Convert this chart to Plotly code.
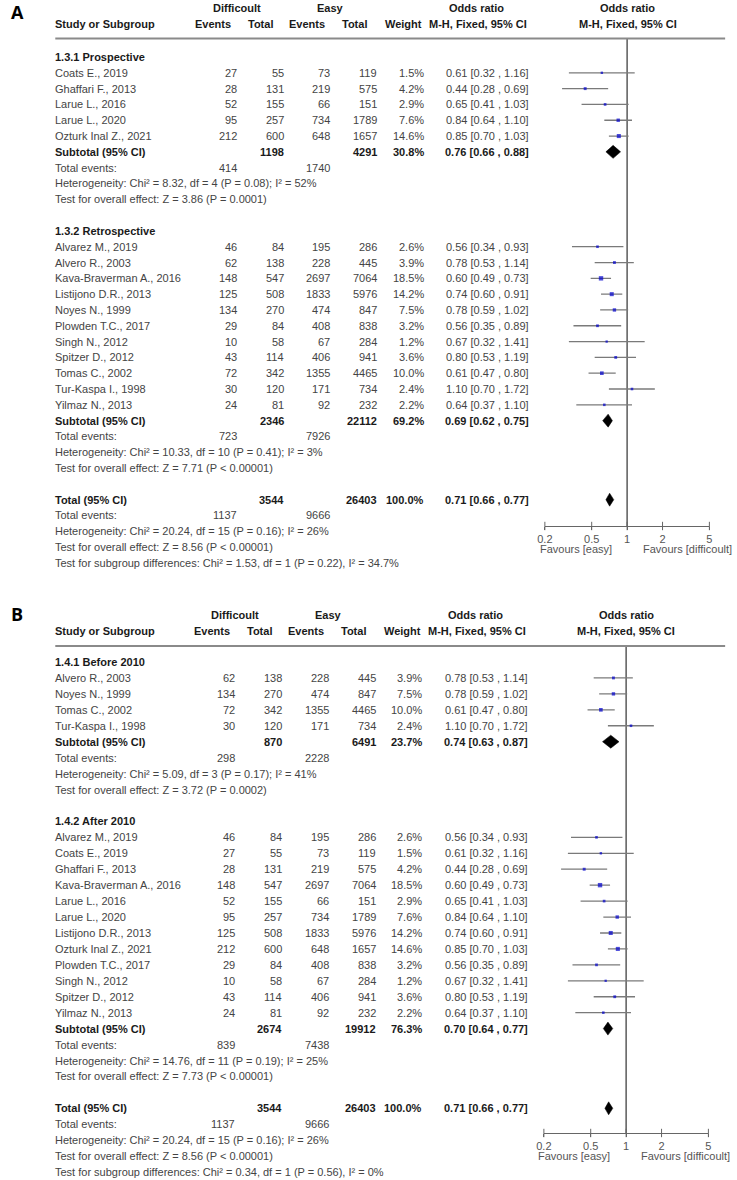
import math
import plotly.graph_objects as go

W, H = 737, 1180
FONT = "Liberation Sans, Arial, sans-serif"
TXT = "#444444"
BOLD = "#1a1a1a"

# ---------------- study-level data ----------------
study_names = ["Alvarez M., 2019", "Alvero R., 2003", "Coats E., 2019", "Ghaffari F., 2013",
               "Kava-Braverman A., 2016", "Larue L., 2016", "Larue L., 2020", "Listijono D.R., 2013",
               "Noyes N., 1999", "Ozturk Inal Z., 2021", "Plowden T.C., 2017", "Singh N., 2012",
               "Spitzer D., 2012", "Tomas C., 2002", "Tur-Kaspa I., 1998", "Yilmaz N., 2013"]
diff_events = [46, 62, 27, 28, 148, 52, 95, 125, 134, 212, 29, 10, 43, 72, 30, 24]
diff_total = [84, 138, 55, 131, 547, 155, 257, 508, 270, 600, 84, 58, 114, 342, 120, 81]
easy_events = [195, 228, 73, 219, 2697, 66, 734, 1833, 474, 648, 408, 67, 406, 1355, 171, 92]
easy_total = [286, 445, 119, 575, 7064, 151, 1789, 5976, 847, 1657, 838, 284, 941, 4465, 734, 232]
weight = [2.6, 3.9, 1.5, 4.2, 18.5, 2.9, 7.6, 14.2, 7.5, 14.6, 3.2, 1.2, 3.6, 10.0, 2.4, 2.2]
or_est = [0.56, 0.78, 0.61, 0.44, 0.60, 0.65, 0.84, 0.74, 0.78, 0.85, 0.56, 0.67, 0.80, 0.61, 1.10, 0.64]
or_lo = [0.34, 0.53, 0.32, 0.28, 0.49, 0.41, 0.64, 0.60, 0.59, 0.70, 0.35, 0.32, 0.53, 0.47, 0.70, 0.37]
or_hi = [0.93, 1.14, 1.16, 0.69, 0.73, 1.03, 1.10, 0.91, 1.02, 1.03, 0.89, 1.41, 1.19, 0.80, 1.72, 1.10]

# ---------------- panel A subgroups ----------------
A_sub_titles = ["1.3.1 Prospective", "1.3.2 Retrospective"]
A_sub_members = [["Coats E., 2019", "Ghaffari F., 2013", "Larue L., 2016", "Larue L., 2020", "Ozturk Inal Z., 2021"],
                 ["Alvarez M., 2019", "Alvero R., 2003", "Kava-Braverman A., 2016", "Listijono D.R., 2013",
                  "Noyes N., 1999", "Plowden T.C., 2017", "Singh N., 2012", "Spitzer D., 2012",
                  "Tomas C., 2002", "Tur-Kaspa I., 1998", "Yilmaz N., 2013"]]
A_sub_diff_total = [1198, 2346]
A_sub_easy_total = [4291, 22112]
A_sub_weight = [30.8, 69.2]
A_sub_or = [0.76, 0.69]
A_sub_lo = [0.66, 0.62]
A_sub_hi = [0.88, 0.75]
A_sub_diff_events = [414, 723]
A_sub_easy_events = [1740, 7926]
A_sub_het = ["Heterogeneity: Chi² = 8.32, df = 4 (P = 0.08); I² = 52%",
             "Heterogeneity: Chi² = 10.33, df = 10 (P = 0.41); I² = 3%"]
A_sub_test = ["Test for overall effect: Z = 3.86 (P = 0.0001)",
              "Test for overall effect: Z = 7.71 (P < 0.00001)"]
A_subgroup_diff = "Test for subgroup differences: Chi² = 1.53, df = 1 (P = 0.22), I² = 34.7%"

# ---------------- panel B subgroups ----------------
B_sub_titles = ["1.4.1 Before 2010", "1.4.2 After 2010"]
B_sub_members = [["Alvero R., 2003", "Noyes N., 1999", "Tomas C., 2002", "Tur-Kaspa I., 1998"],
                 ["Alvarez M., 2019", "Coats E., 2019", "Ghaffari F., 2013", "Kava-Braverman A., 2016",
                  "Larue L., 2016", "Larue L., 2020", "Listijono D.R., 2013", "Ozturk Inal Z., 2021",
                  "Plowden T.C., 2017", "Singh N., 2012", "Spitzer D., 2012", "Yilmaz N., 2013"]]
B_sub_diff_total = [870, 2674]
B_sub_easy_total = [6491, 19912]
B_sub_weight = [23.7, 76.3]
B_sub_or = [0.74, 0.70]
B_sub_lo = [0.63, 0.64]
B_sub_hi = [0.87, 0.77]
B_sub_diff_events = [298, 839]
B_sub_easy_events = [2228, 7438]
B_sub_het = ["Heterogeneity: Chi² = 5.09, df = 3 (P = 0.17); I² = 41%",
             "Heterogeneity: Chi² = 14.76, df = 11 (P = 0.19); I² = 25%"]
B_sub_test = ["Test for overall effect: Z = 3.72 (P = 0.0002)",
              "Test for overall effect: Z = 7.73 (P < 0.00001)"]
B_subgroup_diff = "Test for subgroup differences: Chi² = 0.34, df = 1 (P = 0.56), I² = 0%"

# ---------------- overall ----------------
total_diff_total = 3544
total_easy_total = 26403
total_weight = 100.0
total_or, total_lo, total_hi = 0.71, 0.66, 0.77
total_diff_events = 1137
total_easy_events = 9666
total_het = "Heterogeneity: Chi² = 20.24, df = 15 (P = 0.16); I² = 26%"
total_test = "Test for overall effect: Z = 8.56 (P < 0.00001)"

axis_ticks = [0.2, 0.5, 1, 2, 5]
axis_ticktext = ["0.2", "0.5", "1", "2", "5"]

panels = [
    dict(letter="A", letter_top=0, h1=8, h2=24, line_y=38.5, row0=57, pitch=15.81, axis_y=526,
         fav_y=548, dx=0, fx0=545, fx1=712, xa="x", ya="y", xn="xaxis", yn="yaxis",
         titles=A_sub_titles, members=A_sub_members, sdt=A_sub_diff_total, set_=A_sub_easy_total,
         sw=A_sub_weight, sor=A_sub_or, slo=A_sub_lo, shi=A_sub_hi, sde=A_sub_diff_events,
         see=A_sub_easy_events, shet=A_sub_het, stest=A_sub_test, sgd=A_subgroup_diff),
    dict(letter="B", letter_top=602, h1=615, h2=631, line_y=646, row0=662, pitch=15.94, axis_y=1133,
         fav_y=1155, dx=-1.5, fx0=544, fx1=711, xa="x2", ya="y2", xn="xaxis2", yn="yaxis2",
         titles=B_sub_titles, members=B_sub_members, sdt=B_sub_diff_total, set_=B_sub_easy_total,
         sw=B_sub_weight, sor=B_sub_or, slo=B_sub_lo, shi=B_sub_hi, sde=B_sub_diff_events,
         see=B_sub_easy_events, shet=B_sub_het, stest=B_sub_test, sgd=B_subgroup_diff),
]

annotations = []
shapes = []
fig = go.Figure()


def ann(px, py, text, anchor="left", color=TXT, size=11):
    annotations.append(dict(x=px / W, y=1 - py / H, xref="paper", yref="paper", text=text,
                            showarrow=False, xanchor=anchor, yanchor="middle", borderpad=0,
                            borderwidth=0, font=dict(size=size, color=color, family=FONT)))


def ci_text(o, l, h):
    return f"{o:.2f} [{l:.2f} , {h:.2f}]"


for P in panels:
    dx = P["dx"]
    NAME_X = 48
    C_ED, C_TD, C_EE, C_TE, C_W, C_CI = 232 + dx, 280 + dx, 327 + dx, 375 + dx, 422 + dx, 529 + dx

    # panel letter
    annotations.append(dict(x=3 / W, y=1 - P["letter_top"] / H, xref="paper", yref="paper",
                            text="<b>" + P["letter"] + "</b>", showarrow=False, xanchor="left",
                            yanchor="top", borderpad=0, borderwidth=0,
                            font=dict(size=18, color="#000", family="Open Sans, Arial")))
    # headers
    ann(232 + dx, P["h1"], "<b>Difficoult</b>", "center", BOLD)
    ann(327 + dx, P["h1"], "<b>Easy</b>", "center", BOLD)
    ann(476 + dx, P["h1"], "<b>Odds ratio</b>", "center", BOLD)
    ann(629 + dx, P["h1"], "<b>Odds ratio</b>", "center", BOLD)
    ann(NAME_X, P["h2"], "<b>Study or Subgroup</b>", "left", BOLD)
    ann(208.5 + dx, P["h2"], "<b>Events</b>", "center", BOLD)
    ann(256.5 + dx, P["h2"], "<b>Total</b>", "center", BOLD)
    ann(304 + dx, P["h2"], "<b>Events</b>", "center", BOLD)
    ann(352 + dx, P["h2"], "<b>Total</b>", "center", BOLD)
    ann(402 + dx, P["h2"], "<b>Weight</b>", "center", BOLD)
    ann(477.5 + dx, P["h2"], "<b>M-H, Fixed, 95% CI</b>", "center", BOLD)
    ann(629 + dx, P["h2"], "<b>M-H, Fixed, 95% CI</b>", "center", BOLD)
    shapes.append(dict(type="line", xref="paper", yref="paper", x0=NAME_X / W, x1=728 / W,
                       y0=1 - P["line_y"] / H, y1=1 - P["line_y"] / H,
                       line=dict(color="#8a8a8a", width=2)))

    # build rows
    k = 0
    ci_x, ci_y, sq_x, sq_y, sq_s = [], [], [], [], []
    diamonds = []
    ry = lambda kk: P["row0"] + kk * P["pitch"]
    for g in range(2):
        ann(NAME_X, ry(k), "<b>" + P["titles"][g] + "</b>", "left", BOLD); k += 1
        for nm in P["members"][g]:
            i = study_names.index(nm)
            y = ry(k)
            ann(NAME_X, y, nm)
            ann(C_ED, y, str(diff_events[i]), "right")
            ann(C_TD, y, str(diff_total[i]), "right")
            ann(C_EE, y, str(easy_events[i]), "right")
            ann(C_TE, y, str(easy_total[i]), "right")
            ann(C_W, y, f"{weight[i]:.1f}%", "right")
            ann(C_CI, y, ci_text(or_est[i], or_lo[i], or_hi[i]), "right")
            ci_x += [or_lo[i], or_hi[i], None]
            ci_y += [y, y, None]
            sq_x.append(or_est[i]); sq_y.append(y)
            sq_s.append(1.6 + 0.65 * math.sqrt(weight[i]))
            k += 1
        y = ry(k)
        ann(NAME_X, y, "<b>Subtotal (95% CI)</b>", "left", BOLD)
        ann(C_TD, y, f"<b>{P['sdt'][g]}</b>", "right", BOLD)
        ann(C_TE, y, f"<b>{P['set_'][g]}</b>", "right", BOLD)
        ann(C_W, y, f"<b>{P['sw'][g]:.1f}%</b>", "right", BOLD)
        ann(C_CI, y, "<b>" + ci_text(P["sor"][g], P["slo"][g], P["shi"][g]) + "</b>", "right", BOLD)
        diamonds.append((P["slo"][g], P["sor"][g], P["shi"][g], y))
        k += 1
        y = ry(k)
        ann(NAME_X, y, "Total events:")
        ann(C_ED, y, str(P["sde"][g]), "right")
        ann(C_EE, y, str(P["see"][g]), "right")
        k += 1
        ann(NAME_X, ry(k), P["shet"][g]); k += 1
        ann(NAME_X, ry(k), P["stest"][g]); k += 1
        k += 1  # blank
    y = ry(k)
    ann(NAME_X, y, "<b>Total (95% CI)</b>", "left", BOLD)
    ann(C_TD, y, f"<b>{total_diff_total}</b>", "right", BOLD)
    ann(C_TE, y, f"<b>{total_easy_total}</b>", "right", BOLD)
    ann(C_W, y, f"<b>{total_weight:.1f}%</b>", "right", BOLD)
    ann(C_CI, y, "<b>" + ci_text(total_or, total_lo, total_hi) + "</b>", "right", BOLD)
    diamonds.append((total_lo, total_or, total_hi, y))
    k += 1
    y = ry(k)
    ann(NAME_X, y, "Total events:")
    ann(C_ED, y, str(total_diff_events), "right")
    ann(C_EE, y, str(total_easy_events), "right")
    k += 1
    ann(NAME_X, ry(k), total_het); k += 1
    ann(NAME_X, ry(k), total_test); k += 1
    ann(NAME_X, ry(k), P["sgd"]); k += 1

    # favours labels
    ann(576.5 + dx, P["fav_y"] + 1, "Favours [easy]", "center", "#555555")
    ann(689.5 + dx, P["fav_y"] + 1, "Favours [difficoult]", "center", "#555555")

    xa, ya = P["xa"], P["ya"]
    # vertical line of no effect
    fig.add_trace(go.Scatter(x=[1, 1], y=[P["line_y"], P["axis_y"]], mode="lines",
                             line=dict(color="#5a5a5a", width=1.5), xaxis=xa, yaxis=ya,
                             hoverinfo="skip", showlegend=False, cliponaxis=False))
    # CI lines
    fig.add_trace(go.Scatter(x=ci_x, y=ci_y, mode="lines", line=dict(color="#7a7a7a", width=1.3),
                             xaxis=xa, yaxis=ya, hoverinfo="skip", showlegend=False, cliponaxis=False))
    # squares
    fig.add_trace(go.Scatter(x=sq_x, y=sq_y, mode="markers",
                             marker=dict(symbol="square", size=sq_s, color="#0000cc", line=dict(width=0)),
                             xaxis=xa, yaxis=ya, hoverinfo="skip", showlegend=False, cliponaxis=False))
    # diamonds
    for lo, est, hi, y in diamonds:
        h = 6.5
        fig.add_trace(go.Scatter(x=[lo, est, hi, est, lo], y=[y, y - h, y, y + h, y], mode="lines",
                                 fill="toself", fillcolor="#000000", line=dict(color="#000000", width=0.5),
                                 xaxis=xa, yaxis=ya, hoverinfo="skip", showlegend=False, cliponaxis=False))
    # tick crossing marks
    fig.add_trace(go.Scatter(x=axis_ticks, y=[P["axis_y"]] * len(axis_ticks), mode="markers",
                             marker=dict(symbol="line-ns", size=6, line=dict(color="#666666", width=1)),
                             xaxis=xa, yaxis=ya, hoverinfo="skip", showlegend=False, cliponaxis=False))

    fig.layout[P["xn"]] = dict(type="log", domain=[P["fx0"] / W, P["fx1"] / W],
                               range=[math.log10(0.2), math.log10(5)], anchor=ya,
                               tickvals=axis_ticks, ticktext=axis_ticktext, showline=True,
                               linecolor="#666666", linewidth=1, ticks="outside", ticklen=3,
                               tickcolor="#666666", tickfont=dict(size=11, color="#555555", family=FONT),
                               showgrid=False, zeroline=False, fixedrange=True)
    fig.layout[P["yn"]] = dict(domain=[1 - P["axis_y"] / H, 1 - P["line_y"] / H],
                               range=[P["axis_y"], P["line_y"]], anchor=xa, visible=False,
                               showgrid=False, zeroline=False, fixedrange=True)

fig.update_layout(width=W, height=H, margin=dict(l=0, r=0, t=0, b=0, pad=0),
                  paper_bgcolor="white", plot_bgcolor="rgba(0,0,0,0)",
                  annotations=annotations, shapes=shapes, showlegend=False,
                  font=dict(family=FONT, size=11, color=TXT))
fig.write_html("out.html", config={"displayModeBar": False},
               post_script="document.body.style.margin='0';document.body.style.padding='0';"
                           "document.body.style.overflow='hidden';")
